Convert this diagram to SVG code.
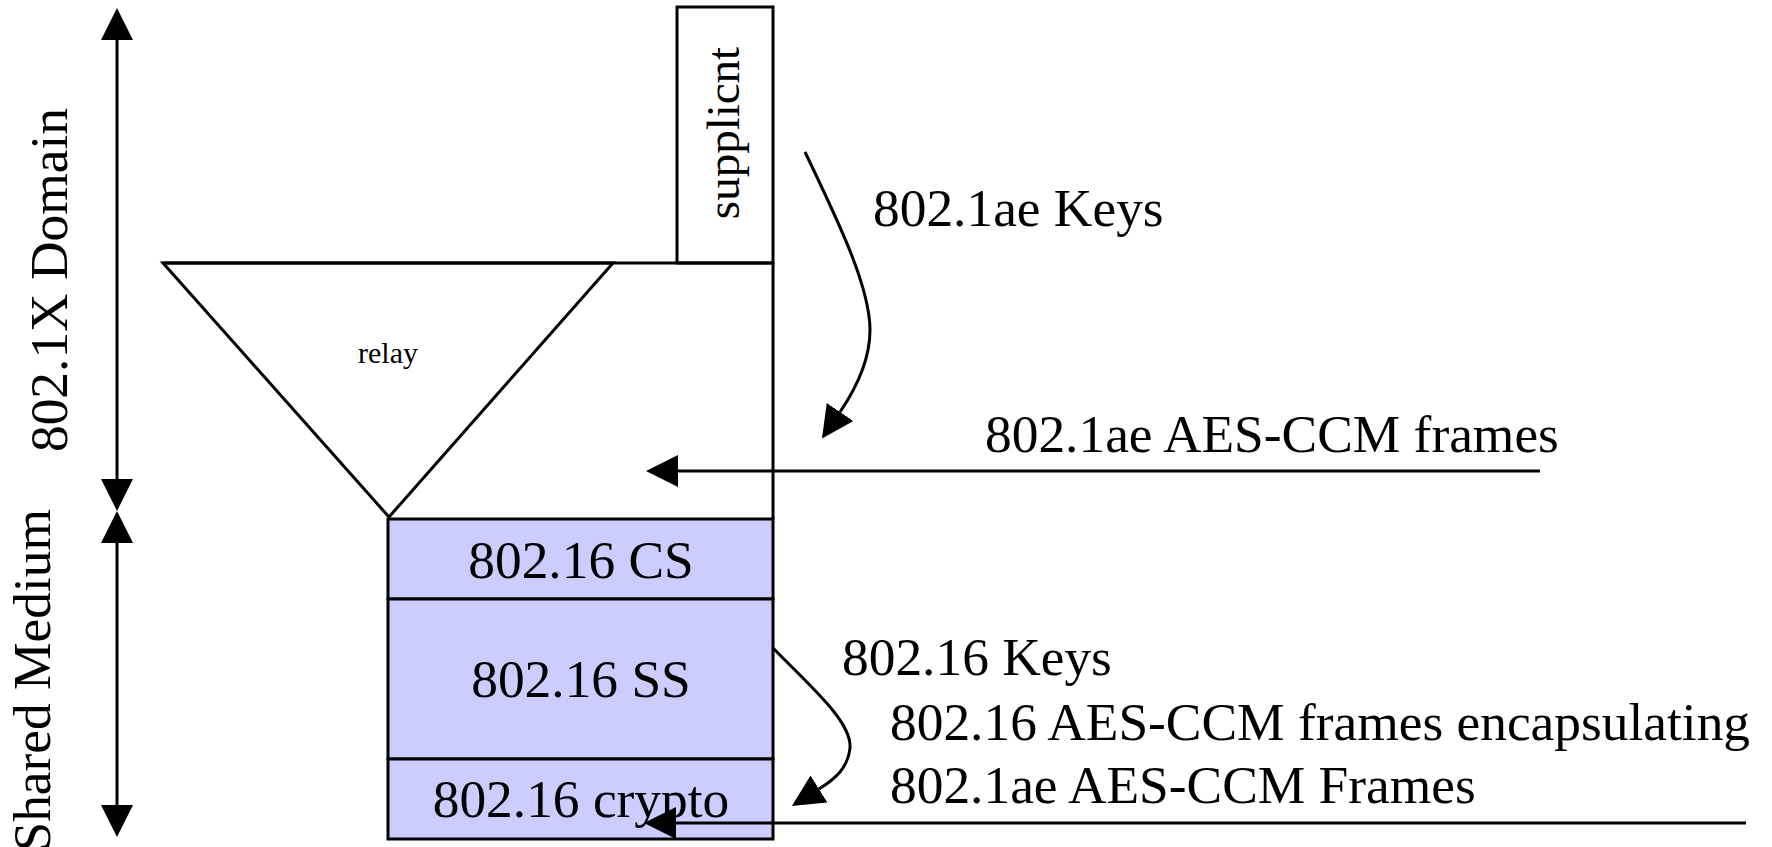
<svg xmlns="http://www.w3.org/2000/svg" width="1772" height="847" viewBox="0 0 1772 847">
  <style>
    .ln { fill: none; stroke: #000; stroke-width: 3; }
    .box { fill: #ccccff; stroke: #000; stroke-width: 3; }
    .wbox { fill: #fff; stroke: #000; stroke-width: 3; }
    .t { font-family: "Liberation Serif", "Times New Roman", serif; font-size: 53.4px; fill: #000; }
    .mid { text-anchor: middle; }
    .arr { marker-end: url(#ah); }
  </style>
  <defs>
    <marker id="ah" viewBox="0 0 32 32" refX="0" refY="16" markerWidth="32" markerHeight="32" markerUnits="userSpaceOnUse" orient="auto-start-reverse">
      <path d="M0,0 L32,16 L0,32 z" fill="#000"/>
    </marker>
  </defs>
  <rect width="1772" height="847" fill="#fff"/>

  <g id="axis-labels">
    <text class="t mid" transform="translate(67,280) rotate(-90)">802.1X Domain</text>
    <text class="t" text-anchor="end" transform="translate(50,509) rotate(-90)">Shared Medium</text>
  </g>

  <g id="supplicant">
    <rect class="wbox" x="677" y="7" width="96" height="256"/>
    <text class="t mid" style="font-size:47px" transform="translate(739,133) rotate(-90)">supplicnt</text>
  </g>

  <g id="relay">
    <path class="ln" d="M163,263 L773,263 M773,263 L773,519"/>
    <path class="ln" d="M163,263 L613,263 L389,517 Z"/>
    <text class="t mid" style="font-size:30px" x="388" y="363">relay</text>
  </g>

  <g id="cs">
    <rect class="box" x="388" y="519" width="385" height="80"/>
    <text class="t mid" x="581" y="578">802.16 CS</text>
  </g>
  <g id="ss">
    <rect class="box" x="388" y="599" width="385" height="160"/>
    <text class="t mid" x="581" y="697">802.16 SS</text>
  </g>
  <g id="crypto">
    <rect class="box" x="388" y="759" width="385" height="80"/>
    <text class="t mid" x="581" y="817">802.16 crypto</text>
  </g>

  <g id="labels">
    <text class="t" x="873" y="226">802.1ae Keys</text>
    <text class="t" x="985" y="452">802.1ae AES-CCM frames</text>
    <text class="t" x="842" y="675">802.16 Keys</text>
    <text class="t" x="890" y="740">802.16 AES-CCM frames encapsulating</text>
    <text class="t" x="890" y="803">802.1ae AES-CCM Frames</text>
  </g>

  <g id="connectors">
    <path class="ln" d="M117,40 L117,479" marker-start="url(#ah)" marker-end="url(#ah)"/>
    <path class="ln" d="M117,543 L117,805" marker-start="url(#ah)" marker-end="url(#ah)"/>
    <path class="ln arr" d="M805,152 C835,215 870,285 870,330 C870,360 855,390 840,412"/>
    <path class="ln arr" d="M1540,471 L678,471"/>
    <path class="ln arr" d="M773,648 C812,688 852,722 850,748 C848,768 835,779 819,789"/>
    <path class="ln arr" d="M1746,823 L676,823"/>
  </g>
</svg>
